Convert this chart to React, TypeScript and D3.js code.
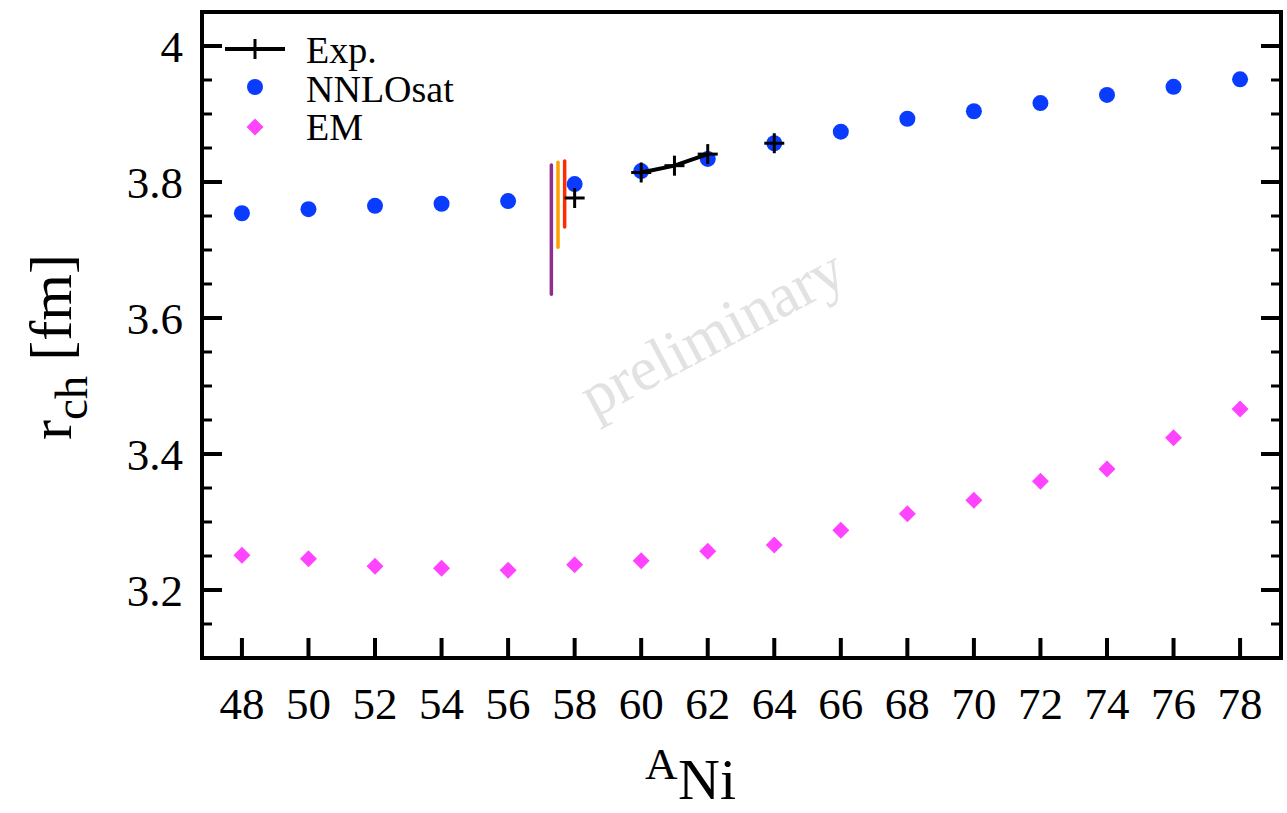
import React from "react";
import * as d3 from "d3";

const massNumbers = [48, 50, 52, 54, 56, 58, 60, 62, 64, 66, 68, 70, 72, 74, 76, 78];
const nnlosatValues = [3.754, 3.760, 3.765, 3.768, 3.772, 3.797, 3.816, 3.834, 3.857, 3.874, 3.893, 3.904, 3.916, 3.928, 3.940, 3.951];
const emValues = [3.251, 3.246, 3.235, 3.232, 3.229, 3.237, 3.243, 3.257, 3.266, 3.288, 3.312, 3.332, 3.360, 3.378, 3.424, 3.466];

const expMass = [58, 59, 60, 61, 62, 63, 64];
const expValues: (number | null)[] = [3.7765, null, 3.814, 3.824, 3.841, null, 3.857];

const bandX = [57.3, 57.5, 57.7];
const bandLow = [3.635, 3.704, 3.734];
const bandHigh = [3.825, 3.829, 3.831];
const bandColors = ["#912d8f", "#ffa000", "#ff2a00"];

const xTicks = [48, 50, 52, 54, 56, 58, 60, 62, 64, 66, 68, 70, 72, 74, 76, 78];
const yMajorTicks = [3.2, 3.4, 3.6, 3.8, 4.0];
const yMinorTicks = [3.15, 3.25, 3.3, 3.35, 3.45, 3.5, 3.55, 3.65, 3.7, 3.75, 3.85, 3.9, 3.95];
const legendLabels = ["Exp.", "NNLOsat", "EM"];

const FONT = "'Liberation Serif', 'Times New Roman', serif";
const BLUE = "#0a3cff";
const MAGENTA = "#ff44ff";

export default function App() {
  const x = d3.scaleLinear().domain([46.8, 79.23]).range([202, 1281]);
  const y = d3.scaleLinear().domain([3.1, 4.05]).range([658, 12]);
  const [x0, x1] = x.range();
  const [y0, y1] = y.range();

  const expLine = d3
    .line<[number, number | null]>()
    .defined((d) => d[1] !== null)
    .x((d) => x(d[0]))
    .y((d) => y(d[1] as number));
  const expPairs = expMass.map((m, i) => [m, expValues[i]] as [number, number | null]);

  const h = 8.5;
  const diamond = `M0,${-h}L${h},0L0,${h}L${-h},0Z`;
  const cross = (cx: number, cy: number, s: number, key: string) => (
    <g key={key} stroke="#000" strokeWidth={3}>
      <line x1={cx - s} x2={cx + s} y1={cy} y2={cy} />
      <line x1={cx} x2={cx} y1={cy - s} y2={cy + s} />
    </g>
  );

  const legendY = [49, 87, 127];

  return (
    <svg
      width={1287}
      height={813}
      style={{ position: "absolute", left: 0, top: 0, display: "block", background: "#fff" }}
    >
      {/* watermark */}
      <text
        x={716}
        y={352}
        transform="rotate(-28 716 340)"
        textAnchor="middle"
        fontFamily={FONT}
        fontSize={62}
        fill="#e2e2e2"
      >
        preliminary
      </text>

      {/* band lines */}
      {bandX.map((bx, i) => (
        <line
          key={"b" + i}
          x1={x(bx)}
          x2={x(bx)}
          y1={y(bandLow[i])}
          y2={y(bandHigh[i])}
          stroke={bandColors[i]}
          strokeWidth={3.5}
          strokeLinecap="round"
        />
      ))}

      {/* NNLOsat */}
      {massNumbers.map((m, i) => (
        <circle key={"n" + i} cx={x(m)} cy={y(nnlosatValues[i])} r={8} fill={BLUE} />
      ))}

      {/* EM */}
      {massNumbers.map((m, i) => (
        <path key={"e" + i} d={diamond} transform={`translate(${x(m)},${y(emValues[i])})`} fill={MAGENTA} />
      ))}

      {/* Exp */}
      <path d={expLine(expPairs) as string} fill="none" stroke="#000" strokeWidth={4} />
      {expPairs
        .filter((d) => d[1] !== null)
        .map((d, i) => cross(x(d[0]), y(d[1] as number), 10, "c" + i))}

      {/* ticks */}
      {xTicks.map((t) => (
        <line key={"xt" + t} x1={x(t)} x2={x(t)} y1={y0} y2={y0 - 20} stroke="#000" strokeWidth={4} />
      ))}
      {yMajorTicks.map((t) => (
        <g key={"ymt" + t}>
          <line x1={x0} x2={x0 + 20} y1={y(t)} y2={y(t)} stroke="#000" strokeWidth={4} />
          <line x1={x1} x2={x1 - 20} y1={y(t)} y2={y(t)} stroke="#000" strokeWidth={4} />
        </g>
      ))}
      {yMinorTicks.map((t) => (
        <g key={"ynt" + t}>
          <line x1={x0} x2={x0 + 10} y1={y(t)} y2={y(t)} stroke="#000" strokeWidth={3} />
          <line x1={x1} x2={x1 - 10} y1={y(t)} y2={y(t)} stroke="#000" strokeWidth={3} />
        </g>
      ))}

      {/* frame */}
      <rect x={x0} y={y1} width={x1 - x0} height={y0 - y1} fill="none" stroke="#000" strokeWidth={4} />

      {/* tick labels */}
      {xTicks.map((t) => (
        <text key={"xl" + t} x={x(t)} y={719} textAnchor="middle" fontFamily={FONT} fontSize={45} fill="#000">
          {d3.format("d")(t)}
        </text>
      ))}
      {yMajorTicks.map((t) => (
        <text
          key={"yl" + t}
          x={183}
          y={y(t) + 16}
          textAnchor="end"
          fontFamily={FONT}
          fontSize={45}
          fill="#000"
        >
          {t === 4 ? "4" : d3.format(".1f")(t)}
        </text>
      ))}

      {/* axis titles */}
      <text fontFamily={FONT} fill="#000">
        <tspan x={645} y={779} fontSize={45}>A</tspan>
        <tspan x={678} y={799} fontSize={58}>Ni</tspan>
      </text>
      <text
        transform="translate(71,347) rotate(-90)"
        textAnchor="middle"
        fontFamily={FONT}
        fill="#000"
        fontSize={60}
      >
        <tspan>r</tspan>
        <tspan fontSize={47} dy={16}>ch</tspan>
        <tspan dy={-16}> [fm]</tspan>
      </text>

      {/* legend */}
      <line x1={225} x2={285} y1={legendY[0]} y2={legendY[0]} stroke="#000" strokeWidth={4} />
      {cross(255, legendY[0], 10, "lc")}
      <circle cx={255} cy={legendY[1]} r={8} fill={BLUE} />
      <path d={diamond} transform={`translate(255,${legendY[2]})`} fill={MAGENTA} />
      {legendLabels.map((l, i) => (
        <text key={"lg" + i} x={306} y={[63, 102, 140][i]} fontFamily={FONT} fontSize={38} fill="#000">
          {l}
        </text>
      ))}
    </svg>
  );
}
